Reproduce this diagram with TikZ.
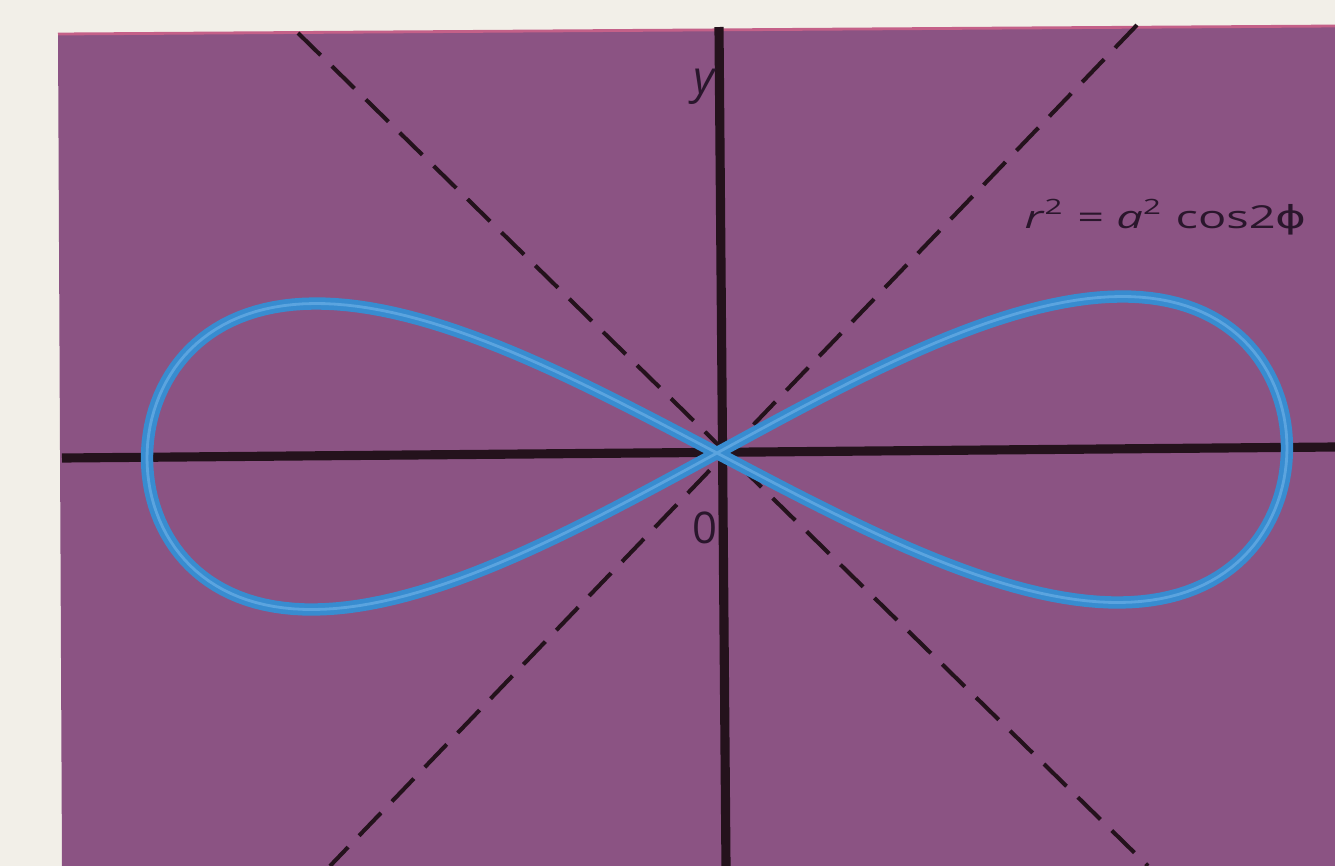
\documentclass[tikz,border=0pt]{standalone}
\usepackage{graphicx}
\usepackage{fontspec}
\setmainfont{Open Sans}
\newfontfamily\symfont{DejaVu Sans}
\definecolor{paper}{RGB}{242,239,232}
\definecolor{plum}{RGB}{139,83,131}
\definecolor{plumedge}{RGB}{196,96,136}
\definecolor{axisc}{RGB}{36,18,28}
\definecolor{curvec}{RGB}{56,140,208}
\definecolor{curvehi}{RGB}{120,185,236}
\definecolor{ink}{RGB}{42,22,44}
\begin{document}
\begin{tikzpicture}[x=0.01cm,y=-0.01cm,
  axisline/.style={line width=2.6pt, color=axisc},
  guide/.style={line width=1.15pt, color=axisc, dash pattern=on 9pt off 4.5pt},
  lem/.style={line width=3.5pt, color=curvec, line join=round},
  lemhi/.style={line width=0.8pt, color=curvehi, opacity=0.55, line join=round},
  lbl/.style={text=ink, inner sep=0pt, anchor=base west}]
\fill[paper] (0,0) rectangle (1335,866);
\useasboundingbox (0,0) rectangle (1335,866);
% purple panel
\fill[plum] (58,34) -- (1335,26) -- (1335,866) -- (62,866) -- cycle;
\draw[plumedge, line width=0.8pt] (58,34) -- (1335,26);
% axes
\coordinate (xl) at (62,458);
\coordinate (xr) at (1335,447);
\coordinate (yt) at (719,27);
\coordinate (yb) at (726,866);
\draw[axisline] (xl) -- (xr);
\draw[axisline] (yt) -- (yb);
% dashed diagonals
\coordinate (d1a) at (298,33);
\coordinate (d1b) at (1148,866);
\coordinate (d2a) at (1137,25);
\coordinate (d2b) at (330,866);
\draw[guide] (d1a) -- (d1b);
\draw[guide] (d2a) -- (d2b);
% lemniscate
\draw[lem] plot[variable=\t, domain=0:360, samples=241]
  ({717+570*cos(\t)}, {453-153*sin(2*\t)-4.96*cos(\t)});
\draw[lemhi] plot[variable=\t, domain=0:360, samples=241]
  ({717+570*cos(\t)}, {453-153*sin(2*\t)-4.96*cos(\t)});
% labels
\node[lbl, font=\fontsize{13}{15}\selectfont] (ylab) at (693,93) {\textit{y}};
\node[lbl, font=\fontsize{12.4}{14}\selectfont] (olab) at (692,543) {0};
\node[lbl, font=\fontsize{9}{10}\selectfont] (eq) at (1024,228)
  {\resizebox{80.2pt}{\height}{\textit{r}\textsuperscript{2} = \textit{a}\textsuperscript{2} cos2{\symfont ϕ}}};
\end{tikzpicture}
\end{document}
